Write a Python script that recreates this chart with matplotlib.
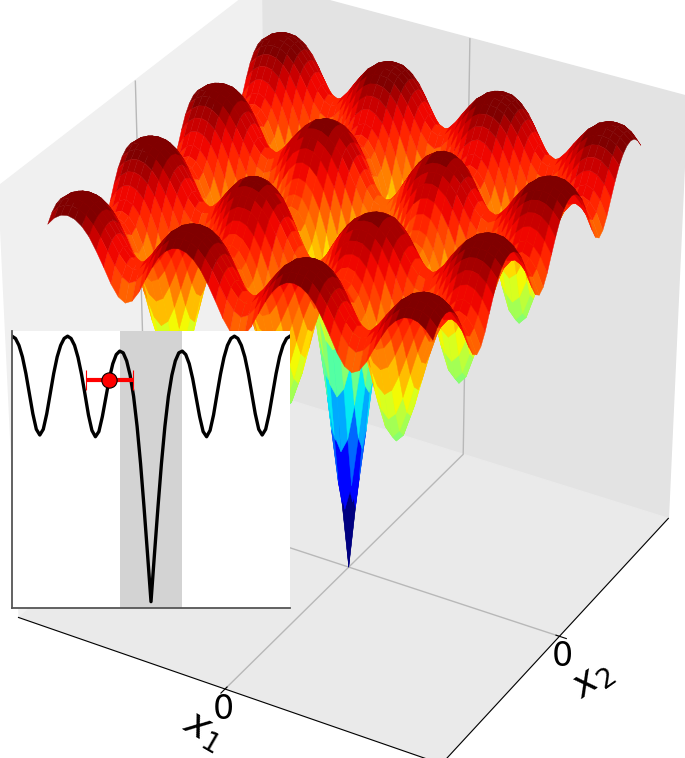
import numpy as np
import matplotlib
matplotlib.use("Agg")
import matplotlib.pyplot as plt

# surface grid, one quadrant, the other three are its mirror images
grid_step = 1 / 16
surface_depth = [
    [5.62,4.79,3.98,3.22,2.57,2.05,1.68,1.43,1.29,1.26,1.32,1.48,1.74,2.07,2.40,2.66,2.75,2.64,2.37,2.01,1.66,1.37,1.16,1.04,1.00,1.04,1.16,1.36],
    [4.79,4.45,3.79,3.09,2.48,1.98,1.61,1.38,1.25,1.22,1.27,1.43,1.68,1.99,2.31,2.56,2.65,2.54,2.28,1.93,1.60,1.32,1.11,1.00,.96,1.00,1.11,1.31],
    [3.98,3.79,3.32,2.75,2.22,1.80,1.47,1.26,1.13,1.11,1.15,1.30,1.51,1.79,2.08,2.30,2.38,2.28,2.05,1.73,1.43,1.18,1.00,.90,.86,.90,1.00,1.18],
    [3.22,3.09,2.75,2.32,1.90,1.54,1.27,1.09,.98,.95,.99,1.11,1.29,1.53,1.77,1.96,2.03,1.94,1.74,1.48,1.22,1.00,.85,.76,.73,.76,.85,1.00],
    [2.57,2.48,2.22,1.90,1.57,1.29,1.07,.92,.83,.80,.83,.93,1.08,1.27,1.46,1.62,1.68,1.61,1.43,1.22,1.01,.83,.70,.63,.61,.63,.70,.83],
    [2.05,1.98,1.80,1.54,1.29,1.06,.89,.76,.69,.67,.70,.77,.90,1.05,1.22,1.34,1.38,1.33,1.19,1.01,.84,.68,.58,.52,.50,.52,.58,.68],
    [1.68,1.61,1.47,1.27,1.07,.89,.74,.65,.59,.57,.59,.66,.76,.90,1.04,1.14,1.18,1.13,1.01,.86,.71,.58,.49,.44,.43,.44,.49,.58],
    [1.43,1.38,1.26,1.09,.92,.76,.65,.57,.52,.51,.53,.59,.68,.80,.93,1.02,1.06,1.01,.91,.77,.63,.52,.44,.40,.38,.40,.44,.52],
    [1.29,1.25,1.13,.98,.83,.69,.59,.52,.48,.47,.50,.56,.66,.77,.89,.98,1.02,.97,.87,.73,.61,.50,.43,.38,.37,.38,.43,.50],
    [1.26,1.22,1.11,.95,.80,.67,.57,.51,.47,.47,.50,.57,.67,.79,.92,1.02,1.05,1.01,.91,.76,.63,.52,.44,.40,.38,.40,.44,.52],
    [1.32,1.27,1.15,.99,.83,.70,.59,.53,.50,.50,.54,.62,.73,.88,1.02,1.13,1.17,1.12,1.01,.85,.70,.58,.49,.44,.43,.44,.49,.58],
    [1.48,1.43,1.30,1.11,.93,.77,.66,.59,.56,.57,.62,.71,.86,1.02,1.20,1.32,1.37,1.32,1.18,1.00,.83,.68,.58,.52,.50,.52,.58,.68],
    [1.74,1.68,1.51,1.29,1.08,.90,.76,.68,.66,.67,.73,.86,1.03,1.23,1.44,1.60,1.66,1.60,1.42,1.21,1.00,.83,.70,.63,.61,.63,.70,.83],
    [2.07,1.99,1.79,1.53,1.27,1.05,.90,.80,.77,.79,.88,1.03,1.23,1.49,1.74,1.93,2.01,1.93,1.73,1.47,1.21,1.00,.85,.76,.73,.76,.85,1.00],
    [2.40,2.31,2.08,1.77,1.46,1.22,1.04,.93,.89,.92,1.02,1.20,1.44,1.74,2.04,2.27,2.36,2.27,2.03,1.72,1.42,1.18,1.00,.90,.86,.90,1.00,1.18],
    [2.66,2.56,2.30,1.96,1.62,1.34,1.14,1.02,.98,1.02,1.13,1.32,1.60,1.93,2.27,2.53,2.63,2.52,2.26,1.92,1.59,1.31,1.11,1.00,.96,1.00,1.11,1.31],
    [2.75,2.65,2.38,2.03,1.68,1.38,1.18,1.06,1.02,1.05,1.17,1.37,1.66,2.01,2.36,2.63,2.72,2.62,2.35,2.00,1.65,1.36,1.16,1.04,1.00,1.04,1.16,1.36],
    [2.64,2.54,2.28,1.94,1.61,1.33,1.13,1.01,.97,1.01,1.12,1.32,1.59,1.92,2.26,2.52,2.62,2.52,2.26,1.92,1.59,1.31,1.11,1.00,.96,1.00,1.11,1.31],
    [2.37,2.28,2.05,1.74,1.43,1.19,1.01,.91,.87,.91,1.01,1.18,1.42,1.72,2.03,2.26,2.35,2.26,2.03,1.72,1.42,1.18,1.00,.90,.86,.90,1.00,1.18],
    [2.01,1.93,1.73,1.48,1.22,1.01,.86,.77,.73,.76,.85,1.00,1.21,1.47,1.72,1.92,2.00,1.92,1.72,1.47,1.21,1.00,.85,.76,.73,.76,.85,1.00],
    [1.66,1.60,1.43,1.22,1.01,.84,.71,.63,.61,.63,.70,.83,1.00,1.21,1.42,1.59,1.65,1.59,1.42,1.21,1.00,.83,.70,.63,.61,.63,.70,.83],
    [1.37,1.32,1.18,1.00,.83,.68,.58,.52,.50,.52,.58,.68,.83,1.00,1.18,1.31,1.36,1.31,1.18,1.00,.83,.68,.58,.52,.50,.52,.58,.68],
    [1.16,1.11,1.00,.85,.70,.58,.49,.44,.43,.44,.49,.58,.70,.85,1.00,1.11,1.16,1.11,1.00,.85,.70,.58,.49,.44,.43,.44,.49,.58],
    [1.04,1.00,.90,.76,.63,.52,.44,.40,.38,.40,.44,.52,.63,.76,.90,1.00,1.04,1.00,.90,.76,.63,.52,.44,.40,.38,.40,.44,.52],
    [1.00,.96,.86,.73,.61,.50,.43,.38,.37,.38,.43,.50,.61,.73,.86,.96,1.00,.96,.86,.73,.61,.50,.43,.38,.37,.38,.43,.50],
    [1.04,1.00,.90,.76,.63,.52,.44,.40,.38,.40,.44,.52,.63,.76,.90,1.00,1.04,1.00,.90,.76,.63,.52,.44,.40,.38,.40,.44,.52],
    [1.16,1.11,1.00,.85,.70,.58,.49,.44,.43,.44,.49,.58,.70,.85,1.00,1.11,1.16,1.11,1.00,.85,.70,.58,.49,.44,.43,.44,.49,.58],
    [1.36,1.31,1.18,1.00,.83,.68,.58,.52,.50,.52,.58,.68,.83,1.00,1.18,1.31,1.36,1.31,1.18,1.00,.83,.68,.58,.52,.50,.52,.58,.68],
]

# inset profile, from the centre out to the right edge
inset_step = 1 / 16
inset_depth = [5.62,4.79,3.98,3.22,2.57,2.05,1.68,1.43,1.29,1.26,1.32,1.48,1.74,2.07,2.40,2.66,2.75,2.64,2.37,2.01,1.66,
               1.37,1.16,1.04,1.00,1.04,1.16,1.36,1.65,2.00,2.35,2.62,2.72,2.62,2.35,2.00,1.65,1.36,1.16,1.04,1.00]

point_x = -0.75
point_depth = 1.76
point_err = 0.42
band_halfwidth = 0.55

# mirror the quadrant
q = np.array(surface_depth)
top = np.hstack([q[:, :0:-1], q])
depth = np.vstack([top[:0:-1], top])
n = q.shape[0] - 1
x1 = np.arange(-n, n + 1) * grid_step
X1, X2 = np.meshgrid(x1, x1)
Z = -depth

# one flat colour per facet, from the jet map cut in bands
jet = plt.get_cmap("jet", 32)
face_z = (Z[:-1, :-1] + Z[1:, :-1] + Z[:-1, 1:] + Z[1:, 1:]) / 4
norm = plt.Normalize(face_z.min(), face_z.max())
face_colors = jet(norm(face_z))

fig = plt.figure(figsize=(6.85, 7.58), dpi=100)
ax = fig.add_axes([-0.1135, -0.042, 1.2125, 1.104], projection="3d")
ax.plot_surface(X1, X2, Z, rstride=1, cstride=1, facecolors=face_colors, shade=False,
                linewidth=0.3, antialiased=True)
ax.view_init(elev=32, azim=-60)
ax.set_xlim(-1.95, 1.95)
ax.set_ylim(-1.95, 1.95)
ax.set_zlim(-5.62, -0.15)
ax.set_box_aspect((1, 1, 1.026))
ax.set_xticks([0])
ax.set_yticks([0])
ax.set_zticks([])
ax.tick_params(axis="both", labelsize=24, pad=-6)
ax.zaxis.line.set_color((1, 1, 1, 0))
ax.xaxis.set_pane_color("#f0f0f0")
ax.yaxis.set_pane_color("#e3e3e3")
ax.zaxis.set_pane_color("#eaeaea")
for axis in [ax.xaxis, ax.yaxis]:
    axis._axinfo["grid"]["color"] = "#b8b8b8"
    axis._axinfo["grid"]["linewidth"] = 1.0

fig.text(203 / 685, 1 - 730 / 758, "$x_1$", fontsize=28, rotation=-30, ha="center", va="center")
fig.text(592 / 685, 1 - 680 / 758, "$x_2$", fontsize=28, rotation=35, ha="center", va="center")

# inset
ins = fig.add_axes([12 / 685, 1 - 608 / 758, 278 / 685, 277 / 758])
half = np.array(inset_depth)
m = len(half) - 1
xs = np.arange(-m, m + 1) * inset_step
ys = np.concatenate([half[:0:-1], half])
ins.axvspan(-band_halfwidth, band_halfwidth, color="lightgrey", lw=0)
ins.plot(xs, -ys, color="black", lw=2.4)
ins.errorbar([point_x], [-point_depth], xerr=point_err, color="red", lw=3, capsize=7, capthick=1.5,
             marker="o", ms=11, mec="black", mew=0.8)
ins.set_xlim(-2.5, 2.5)
ins.set_ylim(-5.73, -0.91)
ins.set_xticks([])
ins.set_yticks([])
ins.spines["top"].set_visible(False)
ins.spines["right"].set_visible(False)
ins.spines["left"].set_color("#555555")
ins.spines["bottom"].set_color("#555555")
ins.spines["left"].set_linewidth(1.3)
ins.spines["bottom"].set_linewidth(1.3)

fig.savefig("out.png", dpi=100)
